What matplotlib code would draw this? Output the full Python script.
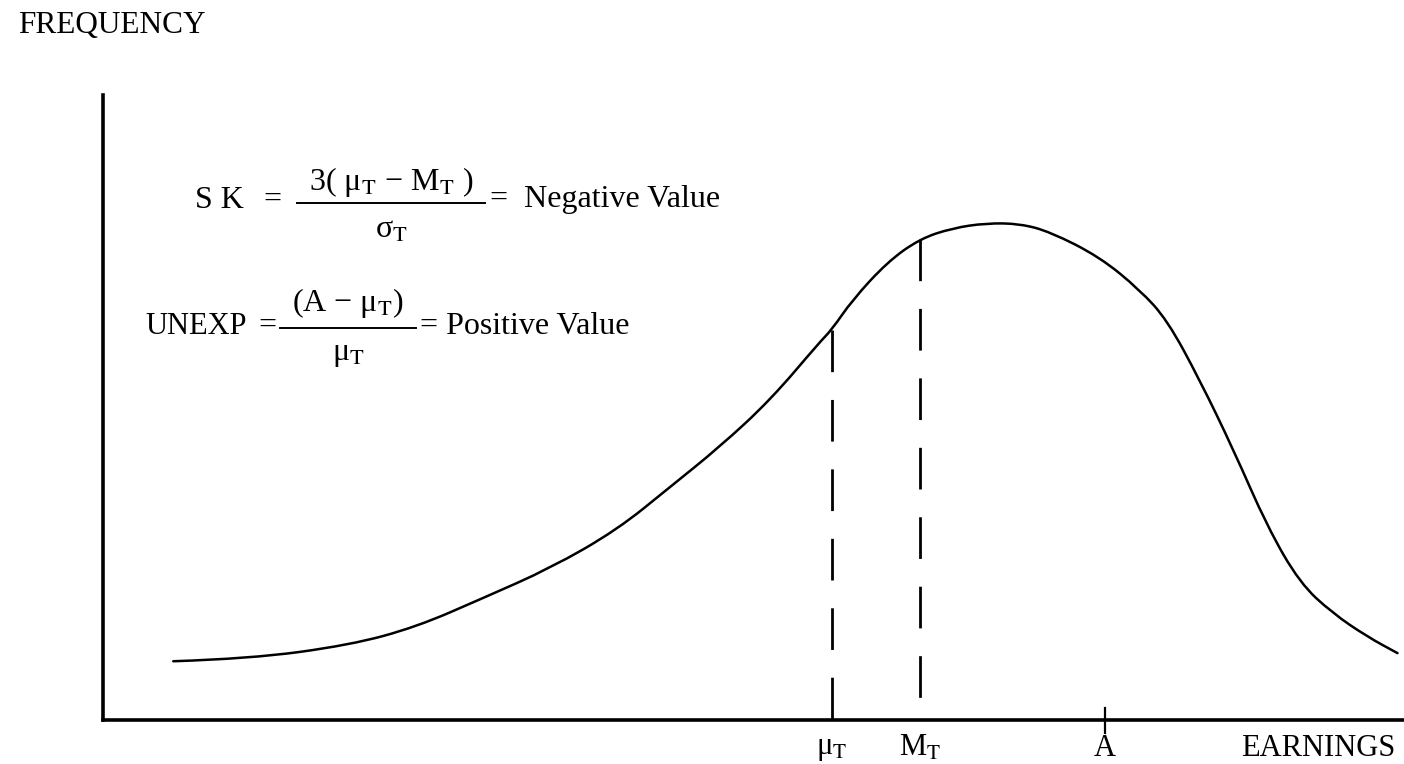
import numpy as np
import matplotlib
matplotlib.use("Agg")
import matplotlib.pyplot as plt
from matplotlib.path import Path
from matplotlib.patches import PathPatch
from matplotlib.lines import Line2D

plt.rcParams['font.family'] = ['Liberation Serif', 'DejaVu Serif']
plt.rcParams['mathtext.fontset'] = 'stix'

# Curve (earnings on x, frequency on y, 0-100 scale)
curve_x = [5.4, 11.3, 19.0, 24.1, 29.2, 34.4, 39.5, 43.6, 47.4, 51.3, 55.1, 56.0,
           57.6, 60.3, 62.8, 65.3, 67.9, 70.5, 72.8, 76.6, 79.7, 81.8, 84.3, 86.9,
           89.5, 92.0, 94.5, 97.2, 99.5]
curve_y = [9.4, 9.8, 12.0, 14.9, 19.5, 24.3, 30.4, 37.3, 43.7, 51.2, 60.5, 62.4,
           67.2, 73.3, 77.0, 78.7, 79.5, 79.4, 78.1, 74.1, 68.8, 64.0, 54.4, 43.2,
           30.9, 21.9, 17.1, 13.3, 10.7]

# Positions on the earnings axis
mu_T = 56.0
M_T = 62.8
A = 77.0
axis_labels = ['μ$_{\\mathrm{T}}$', 'M$_{\\mathrm{T}}$', 'A', 'EARNINGS']
axis_label_x = [mu_T, M_T, A, 93.4]

W, H = 1404, 764
fig = plt.figure(figsize=(W / 100, H / 100), dpi=100)
ax = fig.add_axes([103 / W, 44 / H, (W - 103) / W, 625 / H])
ax.set_xlim(0, 100)
ax.set_ylim(0, 100)
ax.set_facecolor('none')
for s in ['top', 'right']:
    ax.spines[s].set_visible(False)
for s in ['left', 'bottom']:
    ax.spines[s].set_linewidth(2.6)
    ax.spines[s].set_color('black')
ax.set_xticks([])
ax.set_yticks([])

# smooth curve through the read points (quadratic Bezier, points as controls)
pts = list(zip(curve_x, curve_y))
verts = [pts[0]]
codes = [Path.MOVETO]
for i in range(1, len(pts) - 1):
    mid = ((pts[i][0] + pts[i + 1][0]) / 2, (pts[i][1] + pts[i + 1][1]) / 2)
    verts += [pts[i], mid]
    codes += [Path.CURVE3, Path.CURVE3]
verts.append(pts[-1])
codes.append(Path.LINETO)
ax.add_patch(PathPatch(Path(verts, codes), facecolor='none', edgecolor='black',
                       lw=1.8, capstyle='round'))

# dashed verticals at mean and median (drawn from the curve downward)
for xv in [mu_T, M_T]:
    top = np.interp(xv, curve_x, curve_y)
    ax.plot([xv, xv], [top, 0], color='black', lw=2.0, dashes=(15, 10))

# tick at A
ax.plot([A, A], [-2.1, 1.9], color='black', lw=1.6, clip_on=False)

for lx, lt in zip(axis_label_x, axis_labels):
    ax.text(lx, -4.5, lt, ha='center', va='center', fontsize=22)

fig.text(18 / W, 1 - 26 / H, 'FREQUENCY', ha='left', va='center', fontsize=22.5)

fs = 23


def fx(px):
    return px / W


def fy(py):
    return 1 - py / H


# SK formula
fig.text(fx(195), fy(200), 'S K', ha='left', va='center', fontsize=fs)
fig.text(fx(272), fy(200), '=', ha='center', va='center', fontsize=fs)
fig.text(fx(391), fy(182), '3( μ$_{\\mathrm{T}}$ − M$_{\\mathrm{T}}$ )', ha='center',
         va='center', fontsize=fs)
fig.add_artist(Line2D([fx(297), fx(485)], [fy(203), fy(203)], color='black', lw=1.4))
fig.text(fx(391), fy(230), 'σ$_{\\mathrm{T}}$', ha='center', va='center', fontsize=fs)
fig.text(fx(490), fy(200), '=  Negative Value', ha='left', va='center', fontsize=fs)

# UNEXP formula
fig.text(fx(145), fy(326), 'UNEXP', ha='left', va='center', fontsize=22)
fig.text(fx(267), fy(326), '=', ha='center', va='center', fontsize=fs)
fig.text(fx(348), fy(303), '(A − μ$_{\\mathrm{T}}$)', ha='center', va='center', fontsize=fs)
fig.add_artist(Line2D([fx(280), fx(416)], [fy(328), fy(328)], color='black', lw=1.4))
fig.text(fx(348), fy(355), 'μ$_{\\mathrm{T}}$', ha='center', va='center', fontsize=fs)
fig.text(fx(420), fy(326), '= Positive Value', ha='left', va='center', fontsize=fs)

fig.savefig('out.png', dpi=100)
